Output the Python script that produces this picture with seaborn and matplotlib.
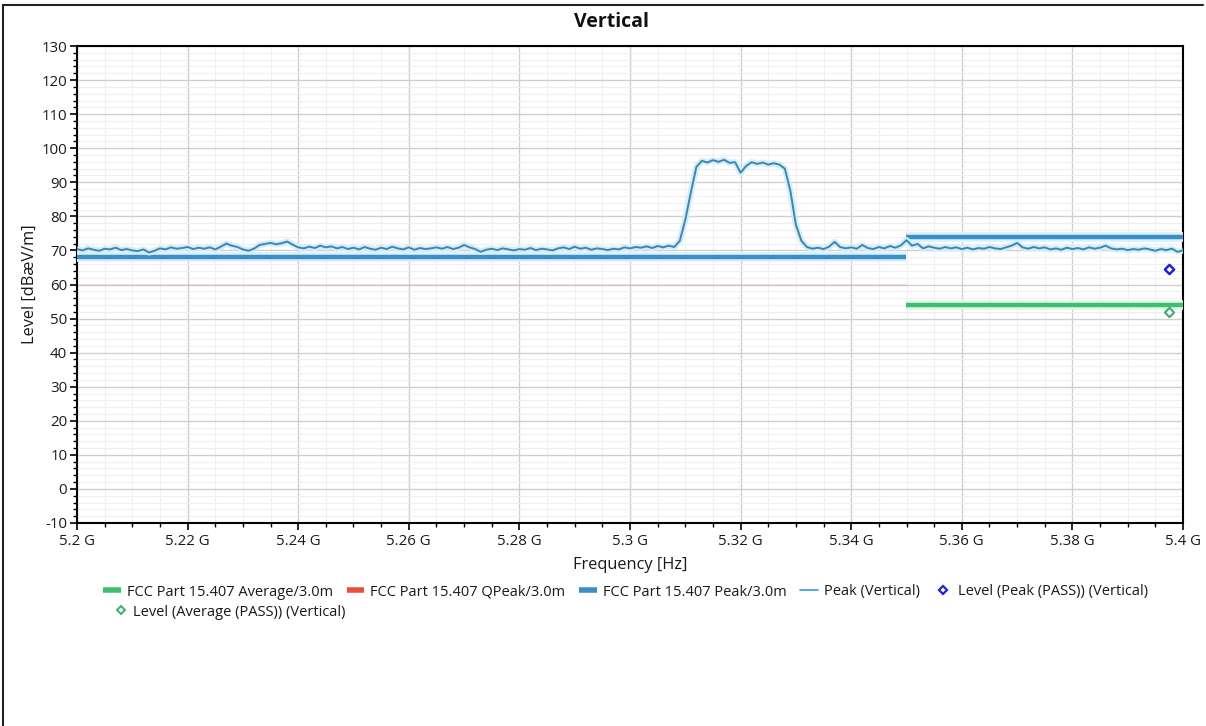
import numpy as np
import pandas as pd
import matplotlib
matplotlib.use("Agg")
import matplotlib.pyplot as plt
import matplotlib.patheffects as pe
from matplotlib.lines import Line2D
from matplotlib.ticker import MultipleLocator, FuncFormatter
import seaborn as sns

# ---- measured peak trace, 1 MHz steps from 5.200 GHz to 5.400 GHz ----
freq_start_ghz = 5.200
freq_step_ghz = 0.001
peak_level = [
    70.4, 70.0, 70.6, 70.2, 69.9, 70.5, 70.3, 70.8, 70.1, 70.4,
    70.0, 69.8, 70.3, 69.4, 69.9, 70.6, 70.3, 70.9, 70.5, 70.7,
    71.0, 70.4, 70.8, 70.5, 70.9, 70.3, 71.1, 72.0, 71.4, 71.0,
    70.3, 69.9, 70.5, 71.6, 71.9, 72.2, 71.8, 72.1, 72.6, 71.7,
    70.9, 70.6, 71.1, 70.7, 71.4, 70.9, 71.2, 70.6, 71.0, 70.4,
    70.8, 70.3, 71.0, 70.5, 70.2, 70.8, 70.4, 71.1, 70.6, 70.3,
    70.9, 70.2, 70.7, 70.4, 70.6, 70.9, 70.5, 71.0, 70.4, 70.8,
    71.6, 70.9, 70.4, 69.6, 70.2, 70.5, 70.1, 70.6, 70.3, 70.0,
    70.4, 70.2, 70.7, 70.1, 70.5, 70.3, 70.0, 70.6, 70.9, 70.4,
    71.1, 70.5, 70.8, 70.2, 70.6, 70.4, 70.1, 70.5, 70.3, 70.9,
    70.6, 71.0, 70.8, 71.2, 70.7, 71.3, 70.9, 71.4, 71.0, 72.8,
    79.0, 87.0, 94.5, 96.3, 95.8, 96.5, 96.0, 96.6, 95.7, 95.9,
    92.8, 94.8, 95.9, 95.4, 95.8, 95.2, 95.6, 95.2, 94.0, 87.5,
    77.5, 72.8, 71.0, 70.5, 70.8, 70.4, 71.1, 72.5, 71.0, 70.6,
    70.9, 70.5, 71.6, 70.7, 70.4, 71.0, 70.6, 71.3, 70.8, 71.5,
    73.0, 71.4, 71.9, 70.6, 71.2, 70.8, 70.5, 71.0, 70.6, 70.9,
    70.4, 70.8, 70.3, 70.7, 70.5, 71.0, 70.6, 70.4, 70.9, 71.4,
    72.2, 70.9, 70.5, 71.0, 70.6, 70.9, 70.3, 70.6, 70.2, 70.8,
    70.4, 70.7, 70.3, 70.9, 70.5, 70.8, 71.4, 70.6, 70.3, 70.5,
    70.1, 70.4, 70.2, 70.6, 70.3, 69.9, 70.4, 70.1, 70.5, 69.6,
    70.0,
]

# ---- FCC Part 15.407 limit segments (GHz, dBuV/m) ----
peak_limit_freq = [[5.200, 5.350], [5.350, 5.400]]
peak_limit_level = [[68.2, 68.2], [74.0, 74.0]]
qpeak_limit_freq = [5.200, 5.350]
qpeak_limit_level = [60.0, 60.0]
avg_limit_freq = [5.350, 5.400]
avg_limit_level = [54.0, 54.0]

# ---- final measurement points ----
level_peak_freq = [5.3975]
level_peak_value = [64.5]
level_avg_freq = [5.3975]
level_avg_value = [51.9]

legend_labels = [
    "FCC Part 15.407 Average/3.0m",
    "FCC Part 15.407 QPeak/3.0m",
    "FCC Part 15.407 Peak/3.0m",
    "Peak (Vertical)",
    "Level (Peak (PASS)) (Vertical)",
    "Level (Average (PASS)) (Vertical)",
]

sns.set_theme(style="white")
plt.rcParams["font.family"] = ["Open Sans", "Noto Sans", "DejaVu Sans"]

c_avg = "#3cbf6e"
c_qpk = "#e8503a"
c_pk = "#3a8fc4"
c_trace = "#3f86ad"
c_lvl_pk = "#1f22d6"
c_lvl_avg = "#3cae6a"
c_text = "#1a1a1a"

W, H = 1206, 726
fig = plt.figure(figsize=(W / 100, H / 100), dpi=100)
ax = fig.add_axes([77 / W, 1 - 523 / H, (1183 - 77) / W, (523 - 46) / H])

trace = pd.DataFrame({
    "freq": freq_start_ghz + freq_step_ghz * np.arange(len(peak_level)),
    "level": peak_level,
})


def halo(c, w):
    return [pe.Stroke(linewidth=w, foreground=c, capstyle="butt"), pe.Normal()]


# QPeak limit (faint)
sns.lineplot(x=qpeak_limit_freq, y=qpeak_limit_level, ax=ax, color=c_qpk,
             alpha=0.15, linewidth=1.2, zorder=2)

# Peak limits
for fx, fy in zip(peak_limit_freq, peak_limit_level):
    sns.lineplot(x=fx, y=fy, ax=ax, color=c_pk, linewidth=3.2, zorder=3,
                 solid_capstyle="butt", path_effects=halo("#dcf0fb", 7))

# Average limit
sns.lineplot(x=avg_limit_freq, y=avg_limit_level, ax=ax, color=c_avg,
             linewidth=3.2, zorder=3, solid_capstyle="butt",
             path_effects=halo("#e3f7ea", 7))

# Peak trace
sns.lineplot(data=trace, x="freq", y="level", ax=ax, color=c_trace,
             linewidth=1.4, zorder=4, path_effects=halo("#d3eefa", 4.5))

# Final measurement points
sns.scatterplot(x=level_peak_freq, y=level_peak_value, ax=ax, marker="D",
                s=22, facecolor="white", edgecolor=c_lvl_pk, linewidth=1.8, zorder=5)
sns.scatterplot(x=level_avg_freq, y=level_avg_value, ax=ax, marker="D",
                s=22, facecolor="white", edgecolor=c_lvl_avg, linewidth=1.5, zorder=5)

ax.set_xlim(5.2, 5.4)
ax.set_ylim(-10, 130)
ax.xaxis.set_major_locator(MultipleLocator(0.02))
ax.xaxis.set_minor_locator(MultipleLocator(0.005))
ax.yaxis.set_major_locator(MultipleLocator(10))
ax.yaxis.set_minor_locator(MultipleLocator(2))
ax.xaxis.set_major_formatter(FuncFormatter(lambda v, p: f"{round(v, 3):g} G"))
ax.yaxis.set_major_formatter(FuncFormatter(lambda v, p: f"{v:.0f}"))

ax.grid(which="major", color="#cfcfcf", linewidth=1.0, zorder=0)
ax.grid(which="minor", color="#efefef", linewidth=0.8, zorder=0)
ax.set_axisbelow(True)

ax.tick_params(axis="both", which="major", direction="out", length=5, width=1.2,
               color="black", labelsize=10.8, labelcolor=c_text)
ax.tick_params(axis="x", which="major", pad=3)
ax.tick_params(axis="y", which="major", pad=2)
ax.tick_params(axis="both", which="minor", direction="out", length=3, width=1.0,
               color="black")
ax.tick_params(axis="x", which="both", bottom=True)
ax.tick_params(axis="y", which="both", left=True)
for s in ax.spines.values():
    s.set_color("black")
    s.set_linewidth(1.5)
    s.set_visible(True)

ax.set_xlabel("Frequency [Hz]", fontsize=11.8, color=c_text, labelpad=6)
ax.set_ylabel("Level [dBæV/m]", fontsize=11.8, color=c_text, labelpad=3)
fig.text(612 / W, 1 - 22 / H, "Vertical", ha="center", va="center",
         fontsize=14, fontweight="bold", color="#111111")

# Legend below the plot area: five entries on the first row, one on the second
h_avg = Line2D([], [], color=c_avg, linewidth=4, solid_capstyle="butt")
h_qpk = Line2D([], [], color=c_qpk, linewidth=4, solid_capstyle="butt")
h_pk = Line2D([], [], color=c_pk, linewidth=4, solid_capstyle="butt")
h_tr = Line2D([], [], color="#4aa3df", linewidth=1.3)
h_lp = Line2D([], [], color=c_lvl_pk, marker="D", linestyle="none", markersize=4.5,
              markerfacecolor="white", markeredgewidth=1.6)
h_la = Line2D([], [], color=c_lvl_avg, marker="D", linestyle="none", markersize=4.5,
              markerfacecolor="white", markeredgewidth=1.4)

leg_kw = dict(loc="center left", frameon=False, fontsize=10.5, handlelength=1.2,
              handletextpad=0.42, columnspacing=0.95, borderaxespad=0, borderpad=0)
leg1 = fig.legend([h_avg, h_qpk, h_pk, h_tr, h_lp], legend_labels[:5], ncol=5,
                  bbox_to_anchor=(103 / W, 1 - 592 / H), **leg_kw)
leg2 = fig.legend([h_la], legend_labels[5:], ncol=1, handler_map=None,
                  bbox_to_anchor=(114 / W, 1 - 612 / H),
                  **{**leg_kw, "handlelength": 0.9})
for lg in (leg1, leg2):
    for t in lg.get_texts():
        t.set_color(c_text)

# outer frame edges
fig.add_artist(Line2D([3.5 / W, 3.5 / W], [0, 1 - 5 / H], color="#222222",
                      linewidth=1.5, transform=fig.transFigure))
fig.add_artist(Line2D([3.5 / W, 1203 / W], [1 - 5 / H, 1 - 5 / H],
                      color="#222222", linewidth=1.5, transform=fig.transFigure))

fig.savefig("out.png", dpi=100, facecolor="white")
